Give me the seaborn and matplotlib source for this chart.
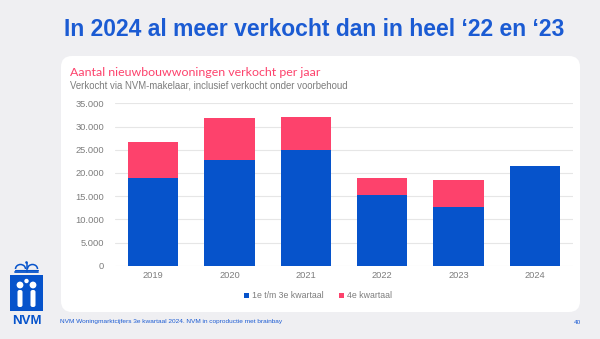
import matplotlib
matplotlib.use("Agg")
import matplotlib.pyplot as plt
from matplotlib.patches import FancyBboxPatch, Rectangle, Circle, Arc, Patch
from matplotlib.ticker import FuncFormatter
import seaborn as sns
import pandas as pd

# Verkochte nieuwbouwwoningen per jaar (NVM)
years = ["2019", "2020", "2021", "2022", "2023", "2024"]
q1_q3 = [19000, 22800, 25000, 15200, 12600, 21400]
q4 = [7700, 9000, 7100, 3700, 5900, 0]
y_ticks = [0, 5000, 10000, 15000, 20000, 25000, 30000, 35000]

title = "In 2024 al meer verkocht dan in heel \u201822 en \u201823"
chart_title = "Aantal nieuwbouwwoningen verkocht per jaar"
chart_sub = "Verkocht via NVM-makelaar, inclusief verkocht onder voorbehoud"
legend_labels = ["1e t/m 3e kwartaal", "4e kwartaal"]
footer = "NVM Woningmarktcijfers 3e kwartaal 2024. NVM in coproductie met brainbay"
page_no = "40"

BLUE = "#0653cb"
PINK = "#fd426c"
TITLE_BLUE = "#1b5bd3"
BG = "#efeff2"
GREY = "#7d7d7d"

df = pd.DataFrame({"jaar": years, "q1_q3": q1_q3, "q4": q4})
df["totaal"] = df["q1_q3"] + df["q4"]

sns.set_theme(style="white")
plt.rcParams["font.family"] = ["Liberation Sans", "DejaVu Sans"]

W, H = 600, 339
fig = plt.figure(figsize=(W / 100, H / 100), dpi=100)
fig.patch.set_facecolor(BG)

# Slide background layer in pixel coordinates
bg = fig.add_axes([0, 0, 1, 1])
bg.set_xlim(0, W)
bg.set_ylim(H, 0)
bg.axis("off")
bg.set_zorder(0)

bg.add_patch(FancyBboxPatch((61, 56), 519, 256,
                            boxstyle="round,pad=0,rounding_size=11",
                            facecolor="white", edgecolor="none"))

bg.text(314, 30, title, ha="center", va="center", fontsize=16.5,
        fontweight="bold", color=TITLE_BLUE)
bg.text(70, 72.5, chart_title, ha="left", va="center", fontsize=8.9,
        color=PINK, family=["Lato", "DejaVu Sans"])
bg.text(70, 85, chart_sub, ha="left", va="center", fontsize=6.9,
        color=GREY)

# NVM logo
bg.add_patch(Rectangle((10, 275), 33, 36, facecolor=BLUE, edgecolor="none"))
bg.add_patch(Circle((20, 285), 3.4, facecolor="white", edgecolor="none"))
bg.add_patch(Circle((33, 285), 3.4, facecolor="white", edgecolor="none"))
bg.add_patch(Circle((26.5, 281), 2.2, facecolor="white", edgecolor="none"))
bg.add_patch(FancyBboxPatch((17.5, 290), 5, 17, boxstyle="round,pad=0,rounding_size=2",
                            facecolor="white", edgecolor="none"))
bg.add_patch(FancyBboxPatch((30.5, 290), 5, 17, boxstyle="round,pad=0,rounding_size=2",
                            facecolor="white", edgecolor="none"))
bg.add_patch(Rectangle((24.5, 284), 4, 10, facecolor=BLUE, edgecolor="none"))
# crown
bg.plot([15, 38], [272, 272], color=BLUE, lw=1.3)
bg.plot([15, 38], [269.5, 269.5], color=BLUE, lw=0.8)
bg.add_patch(Arc((20.5, 269), 10, 9, theta1=180, theta2=360, color=BLUE, lw=1.1))
bg.add_patch(Arc((32.5, 269), 10, 9, theta1=180, theta2=360, color=BLUE, lw=1.1))
bg.plot([26.5, 26.5], [263, 272], color=BLUE, lw=1.1)
bg.add_patch(Circle((26.5, 262.5), 1.3, facecolor=BLUE, edgecolor="none"))
bg.text(26.5, 320.5, "NVM", ha="center", va="center", fontsize=9.5,
        fontweight="bold", color=BLUE)

bg.text(60, 322, footer, ha="left", va="center", fontsize=4.65, color=TITLE_BLUE)
bg.text(578, 322, page_no, ha="center", va="center", fontsize=4.65, color=TITLE_BLUE)

# Stacked bar chart
ax = fig.add_axes([115 / W, 1 - 265.7 / H, (573 - 115) / W, (265.7 - 103.3) / H])
ax.set_zorder(1)
ax.patch.set_alpha(0)
sns.barplot(data=df, x="jaar", y="totaal", color=PINK, width=0.66,
            saturation=1, ax=ax, zorder=3, linewidth=0, edgecolor="none")
sns.barplot(data=df, x="jaar", y="q1_q3", color=BLUE, width=0.66,
            saturation=1, ax=ax, zorder=4, linewidth=0, edgecolor="none")

ax.set_xlim(-0.5, 5.5)
ax.set_ylim(0, 35000)
ax.set_yticks(y_ticks)
ax.yaxis.set_major_formatter(FuncFormatter(lambda v, p: f"{int(v):,}".replace(",", ".")))
ax.grid(axis="y", color="#e6e6e6", lw=0.8, zorder=0)
ax.grid(axis="x", visible=False)
for s in ax.spines.values():
    s.set_visible(False)
ax.tick_params(axis="both", length=0, labelsize=6.7, labelcolor=GREY)
ax.tick_params(axis="y", pad=8)
ax.tick_params(axis="x", pad=4)
ax.set_xlabel("")
ax.set_ylabel("")

handles = [Patch(facecolor=BLUE, edgecolor="none"), Patch(facecolor=PINK, edgecolor="none")]
fig.legend(handles, legend_labels, loc="center", bbox_to_anchor=(318 / W, 1 - 296 / H),
           ncol=2, frameon=False, fontsize=6.3, labelcolor=GREY,
           handlelength=0.55, handleheight=0.55, handletextpad=0.3, columnspacing=1.8)

fig.savefig("out.png", dpi=100, facecolor=BG)
